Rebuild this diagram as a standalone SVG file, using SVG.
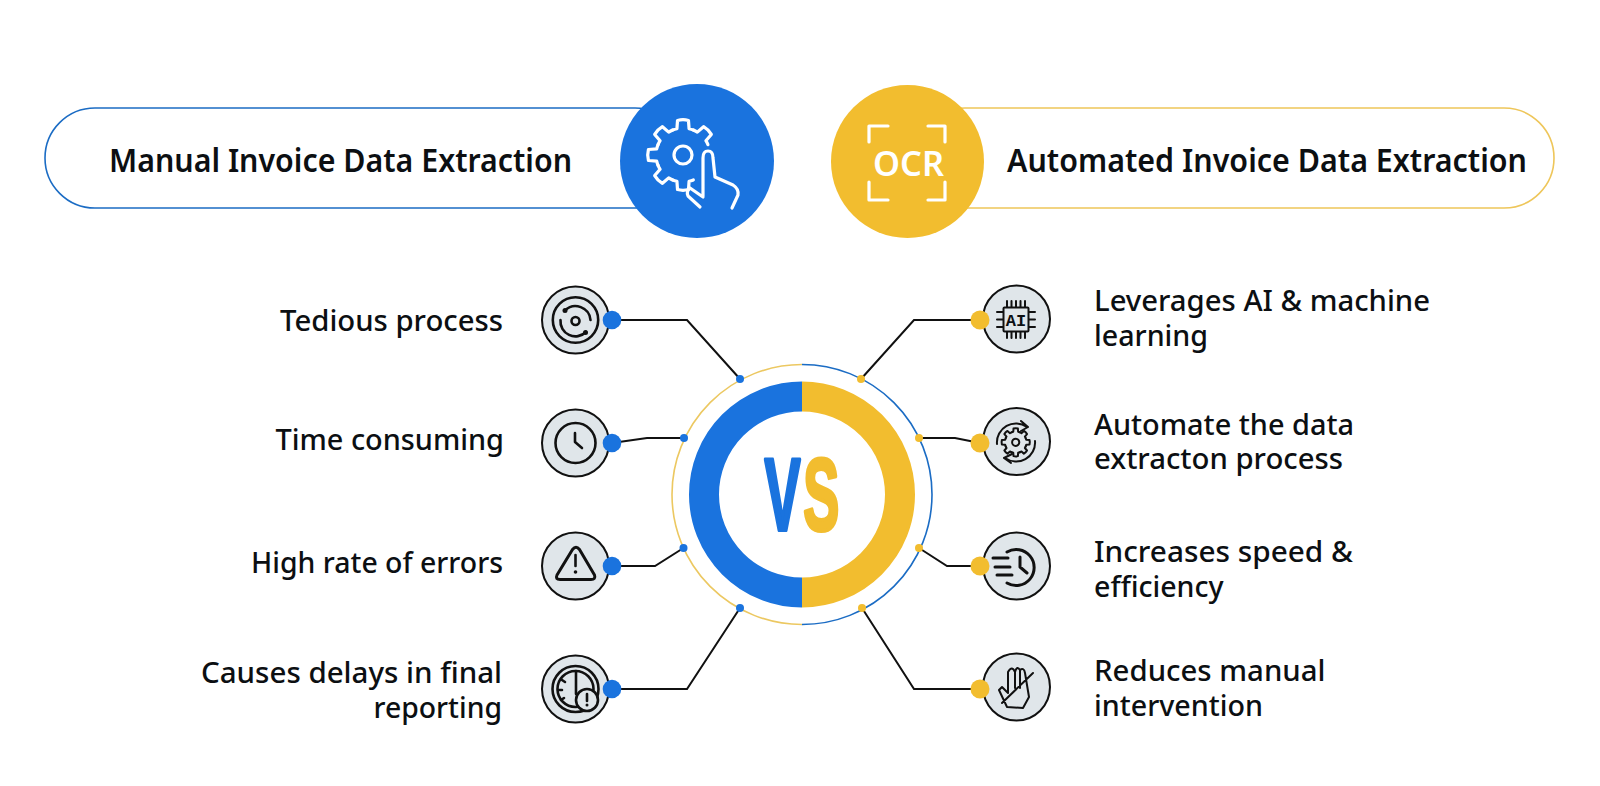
<svg xmlns="http://www.w3.org/2000/svg" xmlns:xlink="http://www.w3.org/1999/xlink" width="1600" height="786" viewBox="0 0 1600 786">
<style>
text{font-family:"Noto Sans","Open Sans","Liberation Sans",sans-serif;fill:#0c0f12}
.t{font-size:29px;font-weight:500}
.h{font-size:32px;font-weight:600}
.c{fill:none;stroke:#111;stroke-width:2}
.ib{fill:#e0e6ea;stroke:#111;stroke-width:2}
.i{fill:none;stroke:#111;stroke-width:2.6;stroke-linecap:round;stroke-linejoin:round}
.n{stroke-width:2}
.w{fill:none;stroke:#fff;stroke-width:3.2;stroke-linecap:round;stroke-linejoin:round}
.bl{fill:#1a73de}
.ye{fill:#f2bd2f}
</style>
<defs>
<path id="tooth" d="M-10.33-24.94A27 27 0 0 1-6.07-26.31L-5.48-34.57Q0-36 5.48-34.57L6.07-26.31A27 27 0 0 1 10.33-24.94"/>
</defs>
<rect width="1600" height="786" fill="#fff"/>

<g id="header-manual">
<rect x="45" y="108" width="640" height="100" rx="50" fill="#fff" stroke="#1b6cc4" stroke-width="1.6"/>
<circle class="bl" cx="697" cy="161" r="77"/>
<g class="w" transform="translate(683 155)">
<circle r="9"/>
<use xlink:href="#tooth" transform="rotate(45)"/><use xlink:href="#tooth"/><use xlink:href="#tooth" transform="rotate(-45)"/><use xlink:href="#tooth" transform="rotate(-90)"/><use xlink:href="#tooth" transform="rotate(-135)"/><use xlink:href="#tooth" transform="rotate(-180)"/>
</g>
<path class="w" d="M703 196V158Q703 151 708 151Q713 151 713 158L715 177L733 185Q739 189 738 195L732 208M700 207L688 196Q686 191 690 188L703 197"/>
<text class="h" x="109" y="172" textLength="463" lengthAdjust="spacingAndGlyphs">Manual Invoice Data Extraction</text>
</g>

<g id="header-automated">
<rect x="915" y="108" width="639" height="100" rx="50" fill="#fff" stroke="#eec65a" stroke-width="1.6"/>
<circle class="ye" cx="907.500" cy="161.500" r="76.500"/>
<path class="w" d="M888 126H869V142M928 126H945V142M869 182V200H888M945 182V200H928"/>
<text x="873" y="176" textLength="71" lengthAdjust="spacingAndGlyphs" style="font-size:35px;font-weight:600;fill:#fff">OCR</text>
<text class="h" x="1007" y="172" textLength="520" lengthAdjust="spacingAndGlyphs">Automated Invoice Data Extraction</text>
</g>

<g id="vs-hub">
<path d="M802 364.500A130 130 0 0 0 802 624.500" fill="none" stroke="#ecc861" stroke-width="1.6"/>
<path d="M802 364.500A130 130 0 0 1 802 624.500" fill="none" stroke="#1b6cc4" stroke-width="1.6"/>
<path d="M802 396.500A98 98 0 0 0 802 592.500" fill="none" stroke="#1a73de" stroke-width="30"/>
<path d="M802 396.500A98 98 0 0 1 802 592.500" fill="none" stroke="#f2bd2f" stroke-width="30"/>
<text transform="translate(764.500 530) scale(.53 1)" style="font-family:'Liberation Sans',sans-serif;font-size:102px;font-weight:700;stroke-width:4;stroke-linejoin:round"><tspan style="fill:#1a73de;stroke:#1a73de">V</tspan><tspan dx="5" style="fill:#f2bd2f;stroke:#f2bd2f">S</tspan></text>
</g>

<g id="connectors">
<polyline class="c" points="612,320 687,320 740,379"/>
<polyline class="c" points="612,443 647,438 684,438"/>
<polyline class="c" points="612,566 655,566 683.500,548"/>
<polyline class="c" points="612,689 687,689 740,608"/>
<polyline class="c" points="980,320 914,320 861,379"/>
<polyline class="c" points="980,443 955,438 919,438"/>
<polyline class="c" points="980,566 947,566 919,548"/>
<polyline class="c" points="980,689 914,689 862,608"/>
<g class="bl"><circle cx="740" cy="379" r="4"/><circle cx="684" cy="438" r="4"/><circle cx="683.500" cy="548" r="4"/><circle cx="740" cy="608" r="4"/></g>
<g class="ye"><circle cx="861" cy="379" r="4"/><circle cx="919" cy="438" r="4"/><circle cx="919" cy="548" r="4"/><circle cx="862" cy="608" r="4"/></g>
</g>

<g id="item-tedious">
<circle class="ib" cx="575.500" cy="320" r="33.500"/>
<path class="i" d="M552.800 320A22.700 22.700 0 0 1 598.200 320A22.700 22.700 0 0 1 552.800 320M565 310.500A15 15 0 0 1 590.500 320M586 332A15 15 0 0 1 560.500 320"/>
<circle class="i" cx="575.500" cy="321" r="4"/>
<circle cx="565" cy="310.500" r="2.500" fill="#111"/><circle cx="585.500" cy="332.500" r="2.500" fill="#111"/>
<circle class="bl" cx="612" cy="320" r="9.300"/>
<text class="t" x="280" y="330.500" textLength="223" lengthAdjust="spacingAndGlyphs">Tedious process</text>
</g>

<g id="item-time">
<circle class="ib" cx="575.500" cy="443" r="33.500"/>
<circle class="i" cx="575.500" cy="443" r="20"/>
<path class="i" d="M575 433V442L582 448"/>
<circle class="bl" cx="612" cy="443" r="9.300"/>
<text class="t" x="275.500" y="450" textLength="228.500" lengthAdjust="spacingAndGlyphs">Time consuming</text>
</g>

<g id="item-errors">
<circle class="ib" cx="575.500" cy="566" r="33.500"/>
<path class="i" style="stroke-width:3" d="M572.500 549.500Q576 545 579.500 549.500L594.500 575Q596 579.500 591 579.500H560Q555 579.500 557 575Z"/>
<path class="i" d="M575.500 555V566"/><circle cx="575.500" cy="572" r="1.800" fill="#111"/>
<circle class="bl" cx="612" cy="566" r="9.300"/>
<text class="t" x="251" y="572.500" textLength="252" lengthAdjust="spacingAndGlyphs">High rate of errors</text>
</g>

<g id="item-delays">
<circle class="ib" cx="575.500" cy="689" r="33.500"/>
<circle class="i" cx="575.500" cy="689" r="23"/><circle class="i" cx="575.500" cy="689" r="18"/>
<path class="i" d="M576 671V694M562 680L565 682M558 690H562M561 700L564 698"/>
<circle cx="587" cy="700" r="11" fill="#e0e6ea" stroke="#111" stroke-width="2.600"/>
<path class="i" d="M587 694V701"/><circle cx="587" cy="705" r="1.500" fill="#111"/>
<circle class="bl" cx="612" cy="689" r="9.300"/>
<text class="t" x="201" y="683" textLength="301" lengthAdjust="spacingAndGlyphs">Causes delays in final</text>
<text class="t" x="373.500" y="718" textLength="128.500" lengthAdjust="spacingAndGlyphs">reporting</text>
</g>

<g id="item-ai">
<circle class="ib" cx="1016.500" cy="319" r="33.500"/>
<rect class="i n" x="1003.500" y="307.500" width="25" height="24" rx="1"/>
<path class="i n" d="M1007 301V307M1011.500 301V307M1016 301V307M1020.500 301V307M1025 301V307M1007 332V338M1011.500 332V338M1016 332V338M1020.500 332V338M1025 332V338M997 312H1003M997 319.500H1003M997 327H1003M1029 312H1035M1029 319.500H1035M1029 327H1035"/>
<text x="1016" y="325.500" text-anchor="middle" style="font-size:17px;font-weight:700;font-family:'Liberation Mono',monospace">AI</text>
<circle class="ye" cx="980" cy="320" r="9.500"/>
<text class="t" x="1094" y="311" textLength="336" lengthAdjust="spacingAndGlyphs">Leverages AI &amp; machine</text>
<text class="t" x="1094" y="346" textLength="114" lengthAdjust="spacingAndGlyphs">learning</text>
</g>

<g id="item-automate">
<circle class="ib" cx="1016.500" cy="441.500" r="33.500"/>
<g class="i" transform="translate(1015.700 442.300) scale(.4)" style="stroke-width:5">
<circle r="9"/>
<use xlink:href="#tooth"/><use xlink:href="#tooth" transform="rotate(45)"/><use xlink:href="#tooth" transform="rotate(90)"/><use xlink:href="#tooth" transform="rotate(135)"/><use xlink:href="#tooth" transform="rotate(180)"/><use xlink:href="#tooth" transform="rotate(225)"/><use xlink:href="#tooth" transform="rotate(270)"/><use xlink:href="#tooth" transform="rotate(315)"/>
</g>
<path class="i n" d="M997 444A19 19 0 0 1 1027 427M1021 421L1028 427L1021 431M1035 441A19 19 0 0 1 1005 458M1012 454L1004 458L1011 463"/>
<circle class="ye" cx="980" cy="443" r="9.500"/>
<text class="t" x="1094" y="434.500" textLength="260" lengthAdjust="spacingAndGlyphs">Automate the data</text>
<text class="t" x="1094" y="469" textLength="249" lengthAdjust="spacingAndGlyphs">extracton process</text>
</g>

<g id="item-speed">
<circle class="ib" cx="1016.500" cy="566" r="33.500"/>
<path class="i" style="stroke-width:3" d="M1007 552A18 18 0 1 1 1007 583M1020 557V567L1027 573M993 558H1008M995 567H1010M997 575H1012"/>
<circle class="ye" cx="980" cy="566" r="9.500"/>
<text class="t" x="1094" y="562" textLength="259" lengthAdjust="spacingAndGlyphs">Increases speed &amp;</text>
<text class="t" x="1094" y="597" textLength="129.500" lengthAdjust="spacingAndGlyphs">efficiency</text>
</g>

<g id="item-reduce">
<circle class="ib" cx="1016.500" cy="687" r="33.500"/>
<path class="i n" d="M1007 707L999 690L1002 687L1008 693V672Q1012 665 1015 672Q1017 665 1020 670Q1024 667 1025 673L1029 697L1023 708ZM1015 672V688M1020 670V688M1007 707L1023 708M1033 673L1002 703"/>
<circle class="ye" cx="980" cy="689" r="9.500"/>
<text class="t" x="1094" y="681" textLength="231.500" lengthAdjust="spacingAndGlyphs">Reduces manual</text>
<text class="t" x="1094" y="716" textLength="169" lengthAdjust="spacingAndGlyphs">intervention</text>
</g>
</svg>
